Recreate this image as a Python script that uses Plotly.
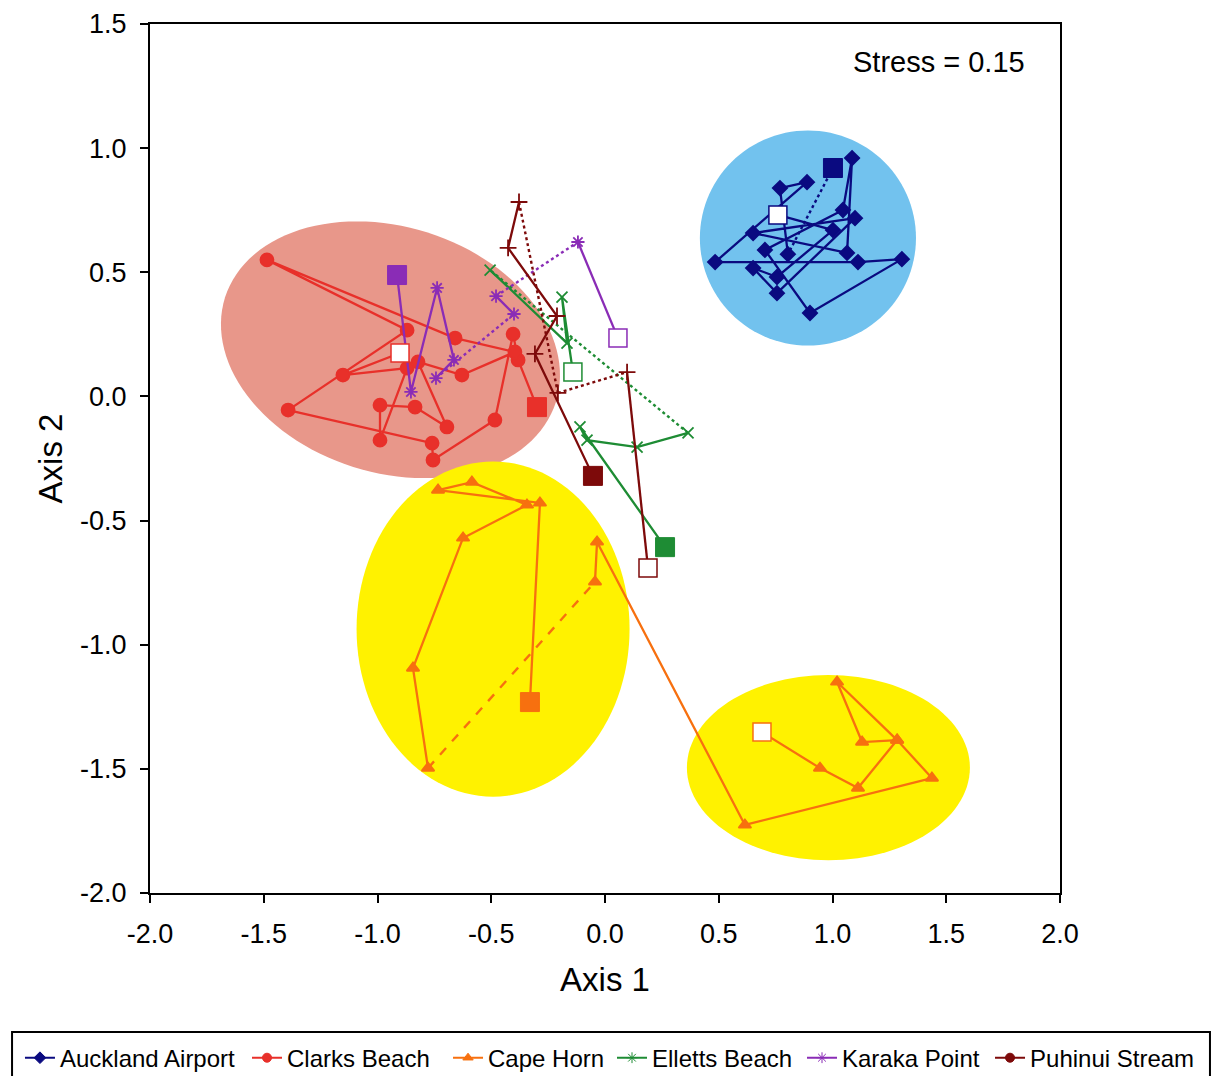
import numpy as np
import plotly.graph_objects as go

# ---------------- data (NMDS ordination, Axis 1 / Axis 2) ----------------
SITES = ["Auckland Airport", "Clarks Beach", "Cape Horn",
         "Elletts Beach", "Karaka Point", "Puhinui Stream"]

# trajectories: first point = first sample (filled square), last = last sample (open square)
auck_x = [1.002, 0.804, 0.769, 0.888, 0.484, 1.112, 1.305, 0.901, 0.703, 1.046,
          1.086, 1.064, 0.651, 1.099, 0.756, 0.651, 0.756, 1.002, 0.760]
auck_y = [0.920, 0.573, 0.839, 0.863, 0.541, 0.541, 0.553, 0.336, 0.590, 0.751,
          0.960, 0.578, 0.658, 0.718, 0.416, 0.517, 0.481, 0.670, 0.731]
auck_gaps = [0]

clarks_x = [-0.299, -0.382, -0.404, -0.484, -0.756, -0.760, -1.393, -0.870, -1.486, -0.659,
            -0.396, -0.629, -0.822, -0.695, -0.835, -0.989, -0.989, -0.870, -1.152, -0.901]
clarks_y = [-0.043, 0.147, 0.251, -0.095, -0.256, -0.188, -0.055, 0.267, 0.550, 0.235,
            0.179, 0.086, 0.139, -0.123, -0.043, -0.035, -0.176, 0.114, 0.086, 0.175]
clarks_gaps = []

cape_x = [-0.330, -0.286, -0.734, -0.585, -0.343, -0.624, -0.844, -0.778, -0.044, -0.035,
          0.615, 1.437, 1.284, 1.020, 1.130, 1.284, 1.112, 0.945, 0.690]
cape_y = [-1.231, -0.429, -0.377, -0.345, -0.437, -0.570, -1.094, -1.497, -0.747, -0.586,
          -1.726, -1.537, -1.384, -1.150, -1.392, -1.384, -1.577, -1.497, -1.352]
cape_gaps = [7]

ell_x = [0.264, -0.110, -0.079, 0.141, 0.365, -0.505, -0.167, -0.189, -0.141]
ell_y = [-0.607, -0.123, -0.176, -0.204, -0.147, 0.509, 0.215, 0.400, 0.098]
ell_gaps = [4]

kar_x = [-0.914, -0.853, -0.738, -0.664, -0.743, -0.400, -0.479, -0.119, 0.057]
kar_y = [0.489, 0.018, 0.437, 0.147, 0.074, 0.332, 0.404, 0.622, 0.235]
kar_gaps = [4, 6]

puh_x = [-0.053, -0.308, -0.211, -0.426, -0.378, -0.207, 0.097, 0.189]
puh_y = [-0.320, 0.171, 0.324, 0.598, 0.783, 0.014, 0.098, -0.691]
puh_gaps = [4, 5]

STRESS = 0.15

x_ticks = [-2.0, -1.5, -1.0, -0.5, 0.0, 0.5, 1.0, 1.5, 2.0]
x_ticklabels = ["-2.0", "-1.5", "-1.0", "-0.5", "0.0", "0.5", "1.0", "1.5", "2.0"]
y_ticks = [-2.0, -1.5, -1.0, -0.5, 0.0, 0.5, 1.0, 1.5]
y_ticklabels = ["-2.0", "-1.5", "-1.0", "-0.5", "0.0", "0.5", "1.0", "1.5"]

# ---------------- styles ----------------
COLORS = ["#0a0a80", "#e8302a", "#f7700f", "#1e8c34", "#8a2cb6", "#7d0a0a"]
SYMBOLS = ["diamond", "circle", "triangle-up", "x-thin", "asterisk", "cross-thin"]
LEG_SYMBOLS = ["diamond", "circle", "triangle-up", "asterisk", "asterisk", "circle"]
SIZES = [11, 13, 11, 11, 11, 12]
GAP_DASH = ["dot", "dot", "dash", "dot", "dot", "dot"]
LEG_X = [-0.1429, 0.1066, 0.3275, 0.5077, 0.7165, 0.9231]   # legend entry positions (paper)

series = [(auck_x, auck_y, auck_gaps), (clarks_x, clarks_y, clarks_gaps),
          (cape_x, cape_y, cape_gaps), (ell_x, ell_y, ell_gaps),
          (kar_x, kar_y, kar_gaps), (puh_x, puh_y, puh_gaps)]

# group ellipses (center, conjugate semi-axis vectors), drawn as background shapes
ELLIPSES = [
    dict(c=(0.892, 0.638), a=(0.475, 0.0), b=(0.0, 0.433), color="#72c2ee"),
    dict(c=(-0.943, 0.188), a=(0.727, -0.211), b=(0.1635, 0.472), color="#e8978a"),
    dict(c=(-0.492, -0.937), a=(0.600, 0.0), b=(0.0, 0.675), color="#fff200"),
    dict(c=(0.982, -1.495), a=(0.622, 0.0), b=(0.0, 0.373), color="#fff200"),
]

fig = go.Figure()

shapes = []
t = np.linspace(0, 2 * np.pi, 121)
for e in ELLIPSES:
    px = e["c"][0] + np.cos(t) * e["a"][0] + np.sin(t) * e["b"][0]
    py = e["c"][1] + np.cos(t) * e["a"][1] + np.sin(t) * e["b"][1]
    path = "M " + " L ".join(f"{u:.4f},{v:.4f}" for u, v in zip(px, py)) + " Z"
    shapes.append(dict(type="path", path=path, xref="x", yref="y",
                       fillcolor=e["color"], line=dict(width=0), layer="below"))

# legend frame
shapes.append(dict(type="rect", xref="paper", yref="paper", x0=-0.1516, x1=1.1648,
                   y0=-0.225, y1=-0.160, line=dict(color="black", width=2),
                   fillcolor="rgba(0,0,0,0)"))

for i, (xs, ys, gaps) in enumerate(series):
    col = COLORS[i]
    sx, sy = [], []
    for k in range(len(xs) - 1):
        if k in gaps:
            sx.append(None); sy.append(None)
            continue
        if not sx or sx[-1] is None:
            sx.append(xs[k]); sy.append(ys[k])
        sx.append(xs[k + 1]); sy.append(ys[k + 1])
    fig.add_trace(go.Scatter(x=sx, y=sy, mode="lines", line=dict(color=col, width=2.3),
                             showlegend=False, hoverinfo="skip", connectgaps=False))
    for k in gaps:
        fig.add_trace(go.Scatter(x=[xs[k], xs[k + 1]], y=[ys[k], ys[k + 1]], mode="lines",
                                 line=dict(color=col, width=2.4, dash=GAP_DASH[i]),
                                 showlegend=False, hoverinfo="skip"))
    fig.add_trace(go.Scatter(x=xs[1:-1], y=ys[1:-1], mode="markers",
                             marker=dict(symbol=SYMBOLS[i], size=SIZES[i], color=col,
                                         line=dict(color=col, width=1.8)),
                             showlegend=False))

for i, (xs, ys, gaps) in enumerate(series):
    col = COLORS[i]
    fig.add_trace(go.Scatter(x=[xs[0]], y=[ys[0]], mode="markers",
                             marker=dict(symbol="square", size=19, color=col,
                                         line=dict(color=col, width=1)),
                             showlegend=False))
    fig.add_trace(go.Scatter(x=[xs[-1]], y=[ys[-1]], mode="markers",
                             marker=dict(symbol="square", size=18, color="white",
                                         line=dict(color=col, width=1.5)),
                             showlegend=False))

legend_layout = {}
for i, name in enumerate(SITES):
    key = "legend" if i == 0 else f"legend{i + 1}"
    fig.add_trace(go.Scatter(x=[None], y=[None], mode="lines+markers", name=name,
                             legend=key,
                             line=dict(color=COLORS[i], width=2),
                             marker=dict(symbol=LEG_SYMBOLS[i], size=9, color=COLORS[i],
                                         line=dict(color=COLORS[i], width=1))))
    legend_layout[key] = dict(orientation="h", x=LEG_X[i], xanchor="left",
                              y=-0.190, yanchor="middle", borderwidth=0,
                              bgcolor="rgba(0,0,0,0)", font=dict(size=24, color="black"))

axis_common = dict(showgrid=False, zeroline=False, showline=True, linecolor="black",
                   linewidth=2, mirror=True, ticks="outside", ticklen=8, tickwidth=2,
                   tickcolor="black", automargin=False, ticklabelstandoff=8,
                   tickfont=dict(size=27, color="black"))

fig.update_layout(
    width=1220, height=1076,
    margin=dict(l=150, r=160, t=24, b=183, autoexpand=False),
    plot_bgcolor="white", paper_bgcolor="white",
    font=dict(family="Liberation Sans, Arial, sans-serif", color="black"),
    shapes=shapes,
    xaxis=dict(range=[-2, 2], tickvals=x_ticks, ticktext=x_ticklabels,
               title=dict(text="Axis 1", font=dict(size=33), standoff=19), **axis_common),
    yaxis=dict(range=[-2, 1.5], tickvals=y_ticks, ticktext=y_ticklabels,
               title=dict(text="Axis 2", font=dict(size=33), standoff=8), **axis_common),
    annotations=[dict(text=f"Stress = {STRESS:.2f}", xref="paper", yref="paper",
                      x=0.9637, y=0.956, xanchor="right", yanchor="middle",
                      showarrow=False, font=dict(size=29))],
    **legend_layout,
)

fig.write_html("out.html", config={"displayModeBar": False},
               post_script="document.body.style.margin='0';document.body.style.overflow='hidden';")
